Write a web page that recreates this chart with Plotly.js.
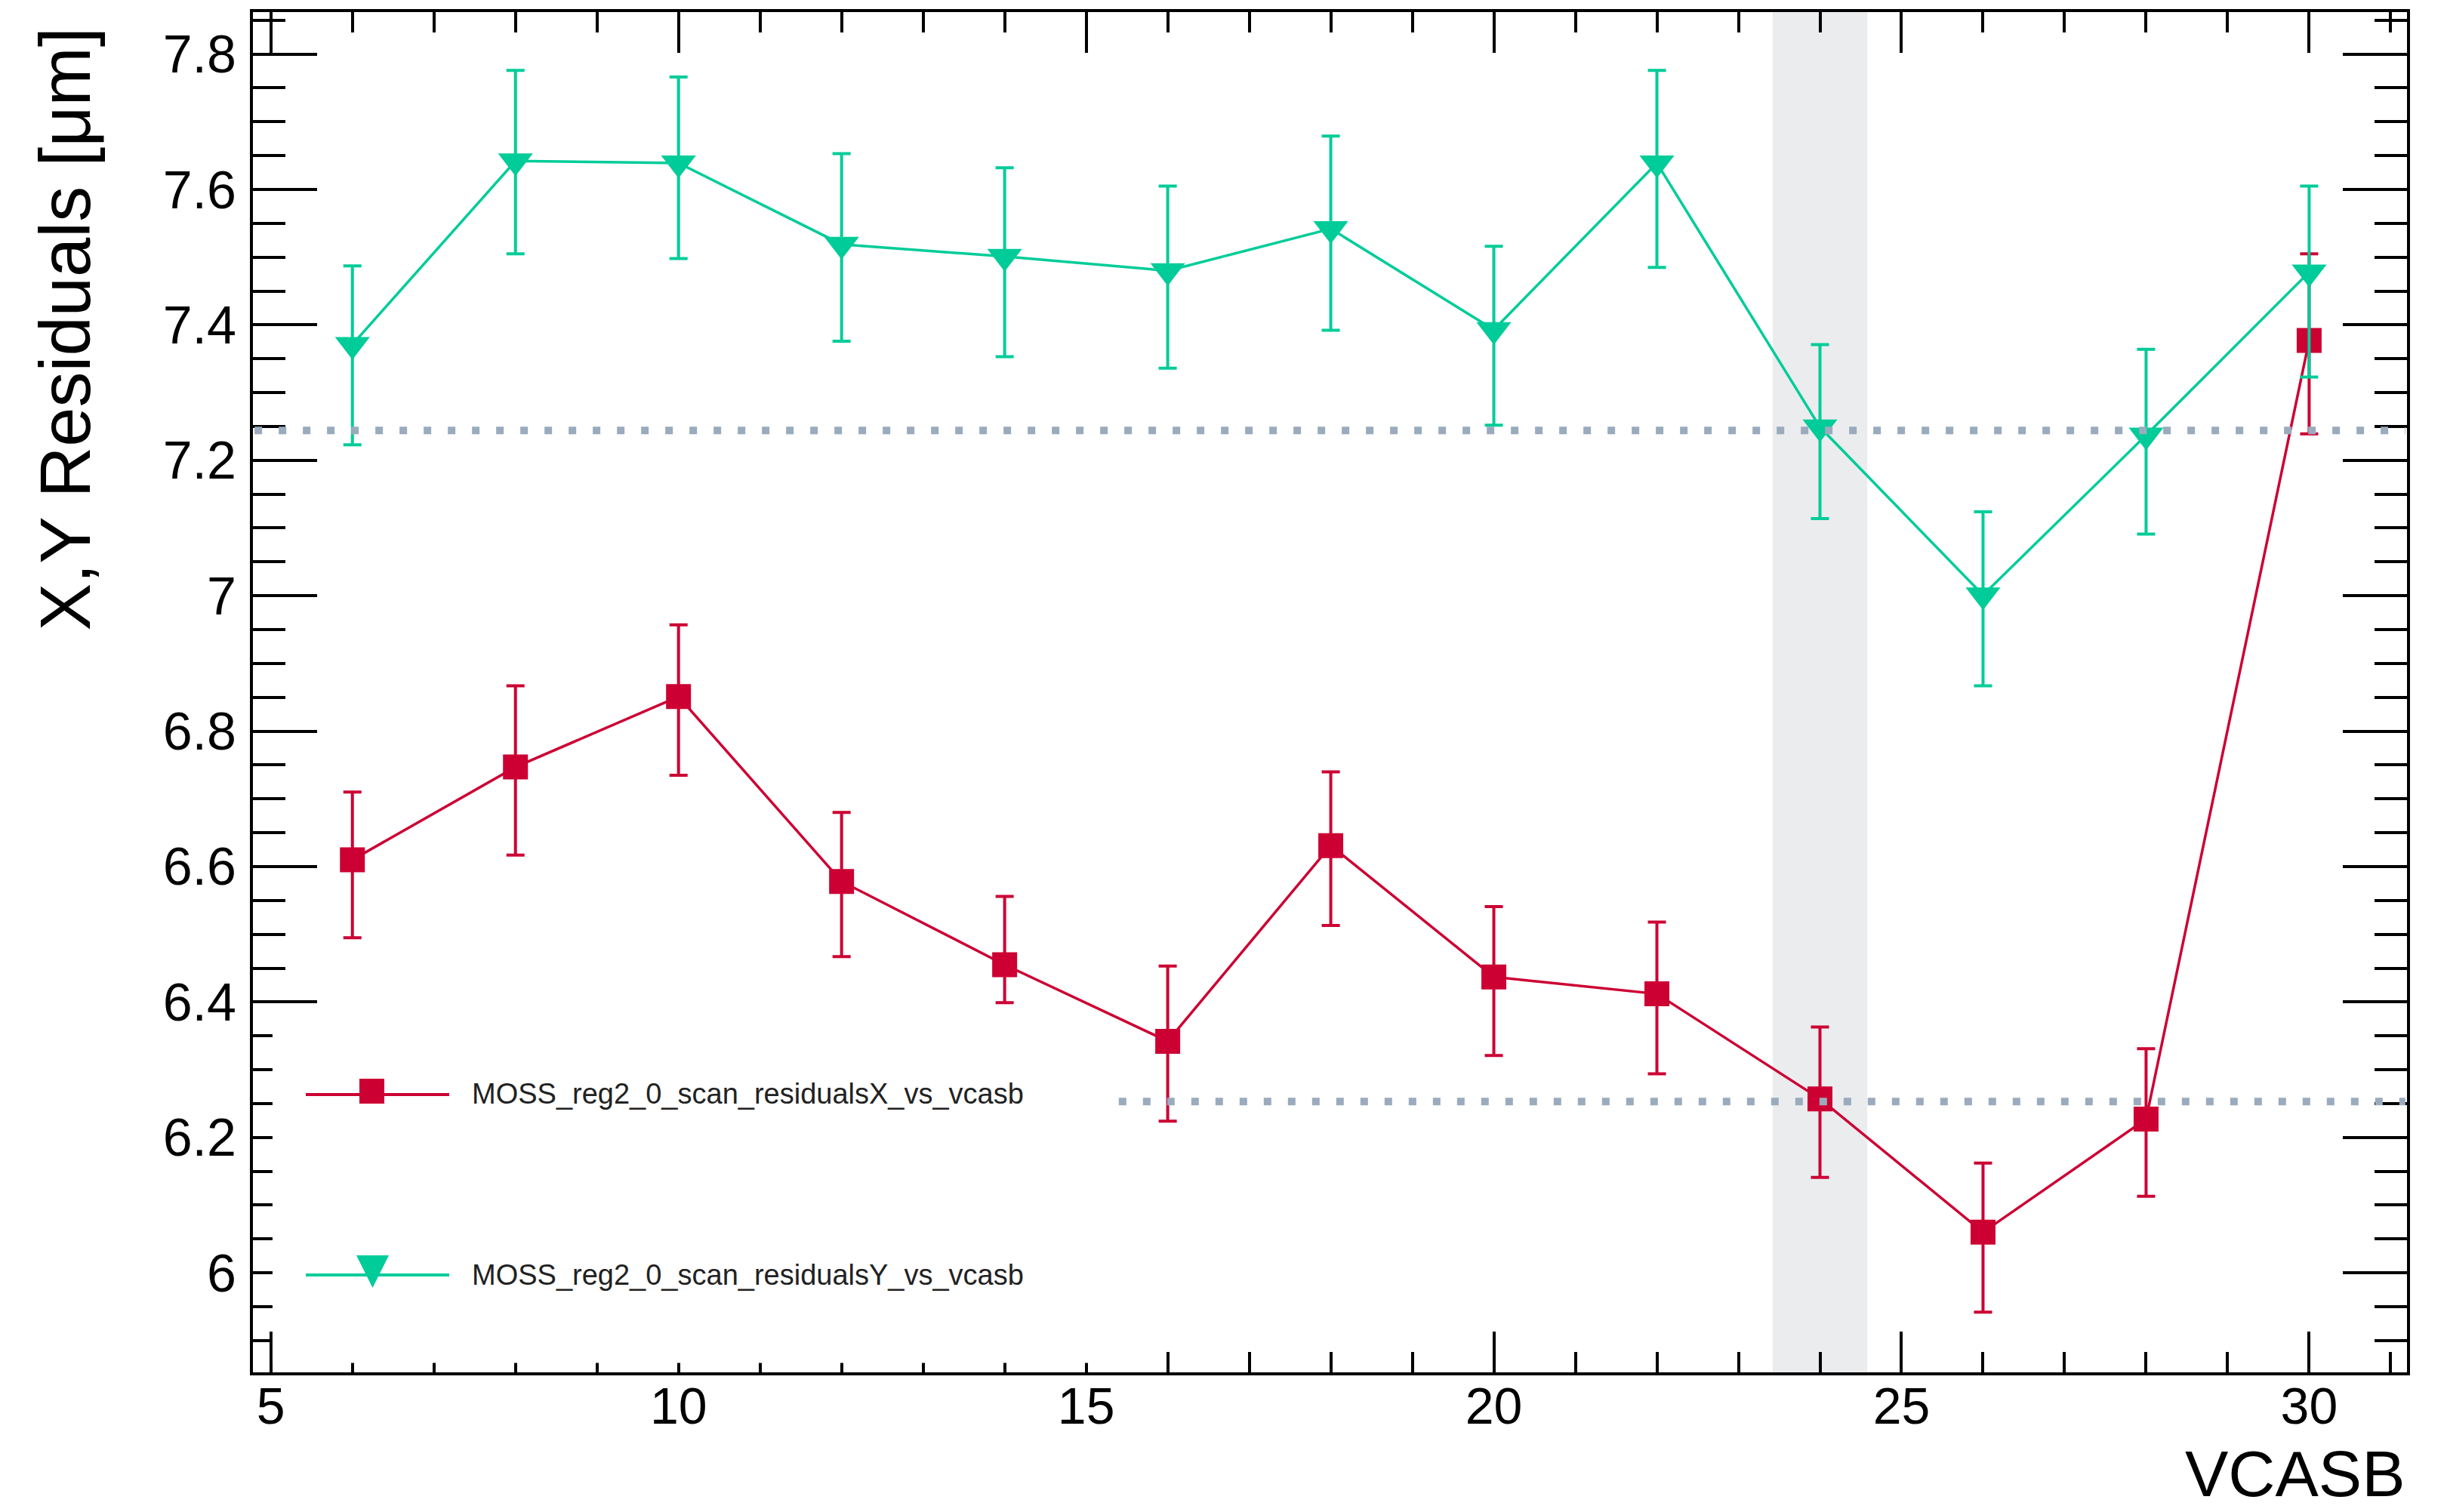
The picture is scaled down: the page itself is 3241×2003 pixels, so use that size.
<!DOCTYPE html>
<html>
<head>
<meta charset="utf-8">
<script src="https://cdn.plot.ly/plotly-3.0.1.min.js"></script>
<style>
html, body { margin: 0; padding: 0; background: #ffffff; }
#chart { width: 3241px; height: 2003px; }
</style>
</head>
<body>
<div id="chart"></div>
<script>
// ---- data ----
const vcasb = [6, 8, 10, 12, 14, 16, 18, 20, 22, 24, 26, 28, 30];
const residualsX = [6.610, 6.747, 6.851, 6.578, 6.455, 6.342, 6.631, 6.437, 6.412, 6.257, 6.060, 6.227, 7.377];
const residualsXErrUp = [0.100, 0.120, 0.106, 0.102, 0.101, 0.111, 0.109, 0.104, 0.106, 0.106, 0.102, 0.104, 0.128];
const residualsXErrDown = [0.115, 0.130, 0.116, 0.111, 0.056, 0.118, 0.118, 0.116, 0.118, 0.116, 0.118, 0.114, 0.138];
const residualsY = [7.371, 7.642, 7.639, 7.519, 7.501, 7.480, 7.542, 7.393, 7.639, 7.249, 7.001, 7.237, 7.478];
const residualsYErrUp = [0.116, 0.134, 0.127, 0.134, 0.131, 0.125, 0.137, 0.123, 0.137, 0.122, 0.123, 0.127, 0.127];
const residualsYErrDown = [0.148, 0.137, 0.141, 0.143, 0.148, 0.144, 0.150, 0.141, 0.154, 0.135, 0.134, 0.146, 0.155];
const referenceLevels = [7.244, 6.253];
const highlightBand = [23.42, 24.58];
const seriesNames = ['MOSS_reg2_0_scan_residualsX_vs_vcasb', 'MOSS_reg2_0_scan_residualsY_vs_vcasb'];
const xTitle = 'VCASB';
const yTitle = 'X,Y Residuals [μm]';

// ---- layout / styles ----
const W = 3241, H = 2003;
const M = { l: 335, r: 53, t: 16, b: 185 };
const xRange = [4.78, 31.2];
const yRange = [5.853, 7.862];
const RED = '#cc0033';
const TEAL = '#00cc99';
const DOTS = '#9aabbd';
const FONT = 'Liberation Sans, Arial, Helvetica, sans-serif';
// pixel position on the page -> paper coordinate
const px = p => (p - M.l) / (W - M.l - M.r);
const py = p => (H - M.b - p) / (H - M.t - M.b);
// white legend box (in data units of the axes)
const legendBox = { x0: 5.02, x1: 15.35, y0: 5.867, y1: 6.366 };

const traces = [
  {
    type: 'scatter', mode: 'lines+markers', name: seriesNames[0], showlegend: false,
    x: vcasb, y: residualsX,
    line: { color: RED, width: 3.5 },
    marker: { color: RED, symbol: 'square', size: 33 },
    error_y: { type: 'data', symmetric: false, array: residualsXErrUp, arrayminus: residualsXErrDown,
      visible: true, color: RED, thickness: 4, width: 12 }
  },
  {
    type: 'scatter', mode: 'lines+markers', name: seriesNames[1], showlegend: false,
    x: vcasb, y: residualsY,
    line: { color: TEAL, width: 3.5 },
    marker: { color: TEAL, symbol: 'triangle-down', size: 40 },
    error_y: { type: 'data', symmetric: false, array: residualsYErrUp, arrayminus: residualsYErrDown,
      visible: true, color: TEAL, thickness: 4, width: 12 }
  }
];

const axisCommon = {
  ticks: 'inside', tickwidth: 4, tickcolor: '#000',
  showline: true, linewidth: 4, linecolor: '#000', mirror: 'ticks',
  showgrid: false, zeroline: false,
  tickfont: { family: FONT, size: 70, color: '#000' }
};

const shapes = [
  { type: 'rect', layer: 'below', xref: 'x', yref: 'paper', x0: highlightBand[0], x1: highlightBand[1], y0: 0, y1: 1,
    fillcolor: '#ebecee', line: { width: 0 } },
  // dotted reference levels
  { type: 'line', layer: 'above', xref: 'x', yref: 'y', x0: xRange[0] + 0.02, x1: xRange[1] - 0.02,
    y0: referenceLevels[0], y1: referenceLevels[0], line: { color: DOTS, width: 10, dash: '10px,22px' } },
  { type: 'line', layer: 'above', xref: 'x', yref: 'y', x0: legendBox.x1 + 0.05, x1: xRange[1] - 0.02,
    y0: referenceLevels[1], y1: referenceLevels[1], line: { color: DOTS, width: 10, dash: '10px,22px' } },
  // legend box
  { type: 'rect', layer: 'above', xref: 'x', yref: 'y', x0: legendBox.x0, x1: legendBox.x1, y0: legendBox.y0, y1: legendBox.y1,
    fillcolor: '#ffffff', line: { width: 0 } },
  // legend samples
  { type: 'line', layer: 'above', xref: 'paper', yref: 'paper', x0: px(405), x1: px(595), y0: py(1450), y1: py(1450),
    line: { color: RED, width: 4 } },
  { type: 'rect', layer: 'above', xref: 'paper', yref: 'paper', xsizemode: 'pixel', ysizemode: 'pixel',
    xanchor: px(492.5), yanchor: py(1445.5), x0: -16.5, x1: 16.5, y0: -16.5, y1: 16.5, fillcolor: RED, line: { width: 0 } },
  { type: 'line', layer: 'above', xref: 'paper', yref: 'paper', x0: px(405), x1: px(595), y0: py(1689), y1: py(1689),
    line: { color: TEAL, width: 4 } },
  { type: 'path', layer: 'above', xref: 'paper', yref: 'paper', xsizemode: 'pixel', ysizemode: 'pixel',
    xanchor: px(493.5), yanchor: py(1684.5), path: 'M-21.5,21.5 L21.5,21.5 L0,-21.5 Z', fillcolor: TEAL, line: { width: 0 } }
];

const layout = {
  width: W, height: H,
  margin: { l: M.l, r: M.r, t: M.t, b: M.b, pad: 0 },
  paper_bgcolor: '#ffffff', plot_bgcolor: '#ffffff',
  font: { family: FONT, color: '#000' },
  showlegend: false,
  xaxis: Object.assign({}, axisCommon, {
    range: xRange, tickmode: 'linear', tick0: 5, dtick: 5, ticklen: 54, ticklabelstandoff: -18,
    tickfont: { family: FONT, size: 68, color: '#000' },
    minor: { tickmode: 'linear', tick0: 0, dtick: 1, ticks: 'inside', ticklen: 27, tickwidth: 4, tickcolor: '#000', showgrid: false }
  }),
  yaxis: Object.assign({}, axisCommon, {
    range: yRange, tickmode: 'linear', tick0: 6, dtick: 0.2, ticklen: 85, ticklabelstandoff: 4,
    minor: { tickmode: 'linear', tick0: 0, dtick: 0.05, ticks: 'inside', ticklen: 43, tickwidth: 4, tickcolor: '#000', showgrid: false }
  }),
  shapes: shapes,
  annotations: [
    { text: yTitle, xref: 'paper', yref: 'paper', x: -0.0871, y: 0.99, xanchor: 'center', yanchor: 'top',
      textangle: -90, showarrow: false, font: { family: FONT, size: 94, color: '#000' } },
    { text: xTitle, xref: 'paper', yref: 'paper', x: 1, y: py(2002), xanchor: 'right', yanchor: 'bottom',
      showarrow: false, font: { family: FONT, size: 86, color: '#000' } },
    { text: seriesNames[0], xref: 'paper', yref: 'paper', x: px(623), y: py(1449), xanchor: 'left', yanchor: 'middle',
      showarrow: false, font: { family: FONT, size: 38, color: '#222' } },
    { text: seriesNames[1], xref: 'paper', yref: 'paper', x: px(623), y: py(1689), xanchor: 'left', yanchor: 'middle',
      showarrow: false, font: { family: FONT, size: 38, color: '#222' } }
  ]
};

Plotly.newPlot('chart', traces, layout, { displayModeBar: false, staticPlot: true });
</script>
</body>
</html>
